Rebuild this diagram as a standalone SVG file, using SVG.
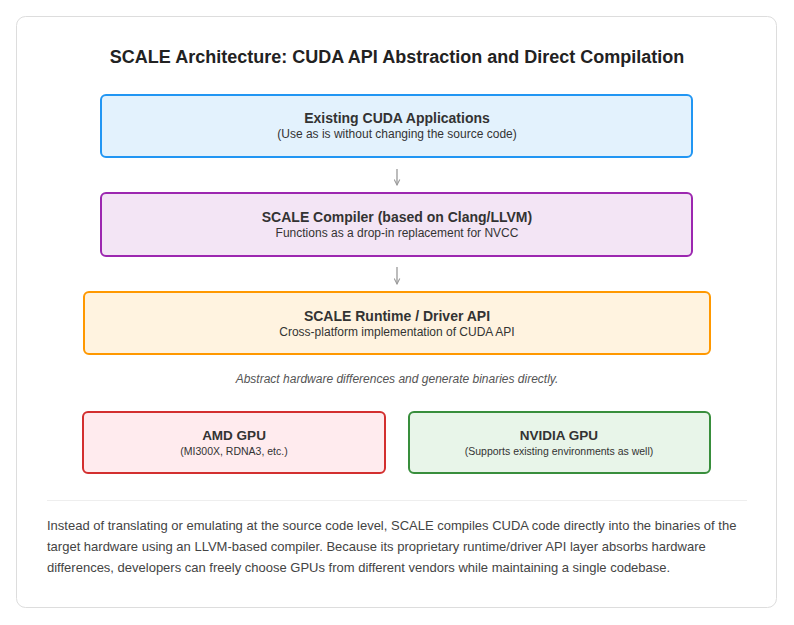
<svg xmlns="http://www.w3.org/2000/svg" width="794" height="625" viewBox="0 0 794 625">
<defs>
<style>
text{font-family:"Liberation Sans",Arial,sans-serif;fill:#333;text-anchor:middle}
.t{font-size:14px;font-weight:bold}
.s{font-size:12px}
.gt{font-size:13.5px;font-weight:bold}
.gs{font-size:10.5px}
.box{stroke-width:2}
.conn{stroke:#999;stroke-width:1.3;fill:none}
</style>
<marker id="ah" viewBox="0 0 10 10" refX="9" refY="5" markerWidth="7" markerHeight="7" orient="auto" markerUnits="userSpaceOnUse">
<path d="M1,1 L9,5 L1,9" fill="none" stroke="#999" stroke-width="1.5"/>
</marker>
</defs>
<rect x="0" y="0" width="794" height="625" fill="#fff"/>
<rect x="16.5" y="16.5" width="760" height="591" rx="9" fill="#fff" stroke="#ddd" stroke-width="1"/>
<text x="397" y="63" style="font-size:18px;font-weight:bold;fill:#222">SCALE Architecture: CUDA API Abstraction and Direct Compilation</text>

<g id="node-apps">
<rect class="box" x="101" y="95" width="591" height="62" rx="5" fill="#E3F2FD" stroke="#2196F3"/>
<text class="t" x="397" y="123">Existing CUDA Applications</text>
<text class="s" x="397" y="138">(Use as is without changing the source code)</text>
</g>
<g id="node-compiler">
<rect class="box" x="101" y="193" width="591" height="63" rx="5" fill="#F3E5F5" stroke="#9C27B0"/>
<text class="t" x="397" y="222">SCALE Compiler (based on Clang/LLVM)</text>
<text class="s" x="397" y="237">Functions as a drop-in replacement for NVCC</text>
</g>
<g id="node-runtime">
<rect class="box" x="84" y="292" width="626" height="62" rx="5" fill="#FFF3E0" stroke="#FF9800"/>
<text class="t" x="397" y="321">SCALE Runtime / Driver API</text>
<text class="s" x="397" y="336">Cross-platform implementation of CUDA API</text>
</g>
<text x="397" y="383" style="font-size:12px;font-style:italic;fill:#555">Abstract hardware differences and generate binaries directly.</text>
<g id="node-amd">
<rect class="box" x="83" y="412" width="302" height="61" rx="5" fill="#FFEBEE" stroke="#D32F2F"/>
<text class="gt" x="234" y="440">AMD GPU</text>
<text class="gs" x="234" y="455">(MI300X, RDNA3, etc.)</text>
</g>
<g id="node-nvidia">
<rect class="box" x="409" y="412" width="301" height="61" rx="5" fill="#E8F5E9" stroke="#388E3C"/>
<text class="gt" x="559" y="440">NVIDIA GPU</text>
<text class="gs" x="559" y="455">(Supports existing environments as well)</text>
</g>
<g id="connectors">
<line class="conn" x1="397" y1="169" x2="397" y2="185" marker-end="url(#ah)"/>
<line class="conn" x1="397" y1="267" x2="397" y2="284" marker-end="url(#ah)"/>
</g>
<line x1="47" y1="500.5" x2="747" y2="500.5" stroke="#eee" stroke-width="1"/>
<g style="font-size:13px;fill:#444">
<text x="47" y="530" style="text-anchor:start;fill:#444">Instead of translating or emulating at the source code level, SCALE compiles CUDA code directly into the binaries of the</text>
<text x="47" y="551" style="text-anchor:start;fill:#444">target hardware using an LLVM-based compiler. Because its proprietary runtime/driver API layer absorbs hardware</text>
<text x="47" y="572" style="text-anchor:start;fill:#444">differences, developers can freely choose GPUs from different vendors while maintaining a single codebase.</text>
</g>
</svg>
